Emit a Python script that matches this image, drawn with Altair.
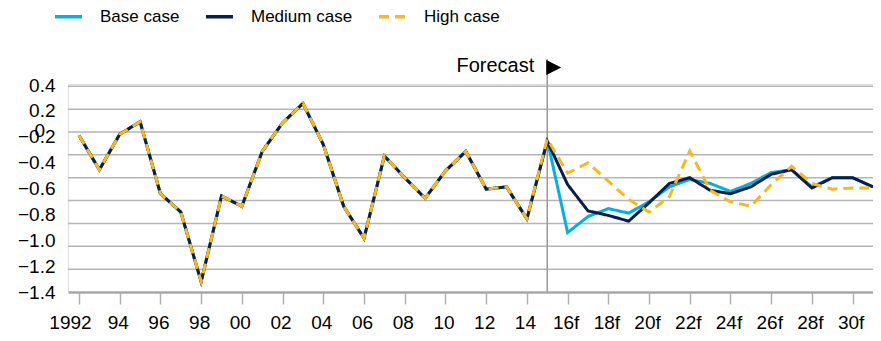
import altair as alt
import pandas as pd
import numpy as np

# ---------------- data ----------------
hist_years = list(range(1992, 2015))
history = [-0.03, -0.33, -0.02, 0.09, -0.54, -0.70, -1.31, -0.56, -0.65, -0.17,
           0.08, 0.25, -0.11, -0.65, -0.93, -0.21, -0.40, -0.58, -0.34, -0.17,
           -0.50, -0.48, -0.76]
fc_years = list(range(2015, 2032))
base_fc = [-0.07, -0.88, -0.74, -0.67, -0.71, -0.61, -0.48, -0.415, -0.45, -0.52,
           -0.45, -0.355, -0.33, -0.48, -0.40, -0.40, -0.48]
medium_fc = [-0.08, -0.46, -0.69, -0.73, -0.78, -0.62, -0.45, -0.40, -0.51, -0.54,
             -0.48, -0.37, -0.33, -0.49, -0.40, -0.40, -0.48]
high_fc = [-0.06, -0.36, -0.27, -0.43, -0.59, -0.70, -0.565, -0.165, -0.51, -0.61,
           -0.65, -0.46, -0.30, -0.45, -0.50, -0.49, -0.49]

series_names = ["Base case", "Medium case", "High case"]
series_colors = ["#00B2E3", "#0B1D4A", "#FDB71A"]

x_tick_years = list(range(1992, 2031, 2))
x_tick_labels = ["1992", "94", "96", "98", "00", "02", "04", "06", "08", "10",
                 "12", "14", "16f", "18f", "20f", "22f", "24f", "26f", "28f", "30f"]
y_label_text = ["0.4", "0.2", "\u22120.2", "\u22120.4", "\u22120.6", "\u22120.8",
                "\u22121.0", "\u22121.2", "\u22121.4"]
grid_values = [-1.2, -1.0, -0.8, -0.6, -0.4, -0.2, 0.0, 0.2, 0.4]
forecast_year = 2015

# ---------------- build tables ----------------
rows = []
for name, fc in zip(series_names, [base_fc, medium_fc, high_fc]):
    for yr, v in zip(hist_years, history):
        rows.append({"year": yr, "value": v, "series": name})
    for yr, v in zip(fc_years, fc):
        rows.append({"year": yr, "value": v, "series": name})
df = pd.DataFrame(rows)

W, H = 805, 208
FONT = "Liberation Sans"

# y label positions (labels in the reference are spread evenly, not on the gridlines)
y_label_pos = list(np.round(np.linspace(0.411, -1.4, len(y_label_text)), 4))
y_expr = "".join(
    f"abs(datum.value - ({p})) < 0.005 ? '{t}' : " for p, t in zip(y_label_pos, y_label_text)
) + "''"
x_expr = "".join(
    f"datum.value == {y} ? '{t}' : " for y, t in zip(x_tick_years, x_tick_labels)
) + "''"

x_scale = alt.Scale(domain=[1991.46, 2031], nice=False, zero=False)
y_scale = alt.Scale(domain=[-1.4, 0.42], nice=False, zero=False)

x_axis = alt.Axis(values=x_tick_years, labelExpr=x_expr, title=None, grid=False,
                  domainColor="#a8a8a8", domainWidth=2.5, tickColor="#b0b0b0",
                  tickWidth=1.5, tickSize=12, labelPadding=9, labelFontSize=19,
                  labelFont=FONT, labelColor="#000000", labelFlush=False,
                  labelOverlap=False,
                  labelOffset={"condition": {"test": "datum.value == 1992", "value": -9},
                               "value": -2})
y_axis = alt.Axis(values=y_label_pos, labelExpr=y_expr, title=None, grid=False,
                  ticks=False, tickSize=0, domain=False, labelPadding=13,
                  labelFontSize=19, labelFont=FONT, labelColor="#000000",
                  labelOverlap=False)

color_scale = alt.Scale(domain=series_names, range=series_colors)
dash_scale = alt.Scale(domain=series_names, range=[[1, 0], [1, 0], [10, 6]])

legend = alt.Legend(orient="none", legendX=-15, legendY=-83, direction="horizontal",
                    title=None, symbolType="stroke", symbolSize=729,
                    symbolStrokeWidth=3.5, labelFontSize=17, labelFont=FONT,
                    labelColor="#000000", labelOffset=16, columnPadding=19,
                    labelLimit=300)

grid_df = pd.DataFrame({"g": grid_values})
grid = alt.Chart(grid_df).mark_rule(color="#b5b5b5", strokeWidth=1.5).encode(
    y=alt.Y("g:Q", scale=y_scale, axis=y_axis)
)

fc_df = pd.DataFrame({"year": [forecast_year]})
fc_rule = alt.Chart(fc_df).mark_rule(color="#9a9a9a", strokeWidth=1.5).encode(
    x=alt.X("year:Q", scale=x_scale, axis=x_axis),
    y=alt.value(-25),
    y2=alt.value(H),
)
fc_text = alt.Chart(fc_df).mark_text(
    text="Forecast", align="right", baseline="middle", dx=-13,
    fontSize=20, font=FONT, color="#000000"
).encode(
    x=alt.X("year:Q", scale=x_scale, axis=x_axis),
    y=alt.value(-18),
)
fc_arrow = alt.Chart(fc_df).mark_point(
    shape="M-1,-1L1,0L-1,1Z", filled=True, color="#000000", size=225,
    opacity=1, strokeWidth=0, xOffset=6.5
).encode(
    x=alt.X("year:Q", scale=x_scale, axis=x_axis),
    y=alt.value(-16.5),
)

zero_df = pd.DataFrame({"z": [0.0], "t": ["0"]})
zero_label = alt.Chart(zero_df).mark_text(
    align="right", baseline="middle", fontSize=19, font=FONT, color="#000000", dy=-1
).encode(
    y=alt.Y("z:Q", scale=y_scale, axis=y_axis),
    x=alt.value(-23),
    text="t:N",
)

line_layers = []
for name in series_names:
    line_layers.append(
        alt.Chart(df).transform_filter(alt.datum.series == name).mark_line(
            strokeWidth=3, strokeCap="butt", strokeJoin="miter"
        ).encode(
            x=alt.X("year:Q", scale=x_scale, axis=x_axis),
            y=alt.Y("value:Q", scale=y_scale, axis=y_axis),
            color=alt.Color("series:N", scale=color_scale, legend=legend),
            strokeDash=alt.StrokeDash("series:N", scale=dash_scale, legend=legend),
        )
    )

chart = alt.layer(grid, fc_rule, *line_layers, fc_text, fc_arrow, zero_label).properties(
    width=W, height=H,
    autosize=alt.AutoSizeParams(type="none"),
    padding={"left": 60, "top": 76, "right": 0, "bottom": 40},
).configure_view(stroke=None).configure(font=FONT)

chart.save("out.html", embed_options={"renderer": "svg", "actions": False})
